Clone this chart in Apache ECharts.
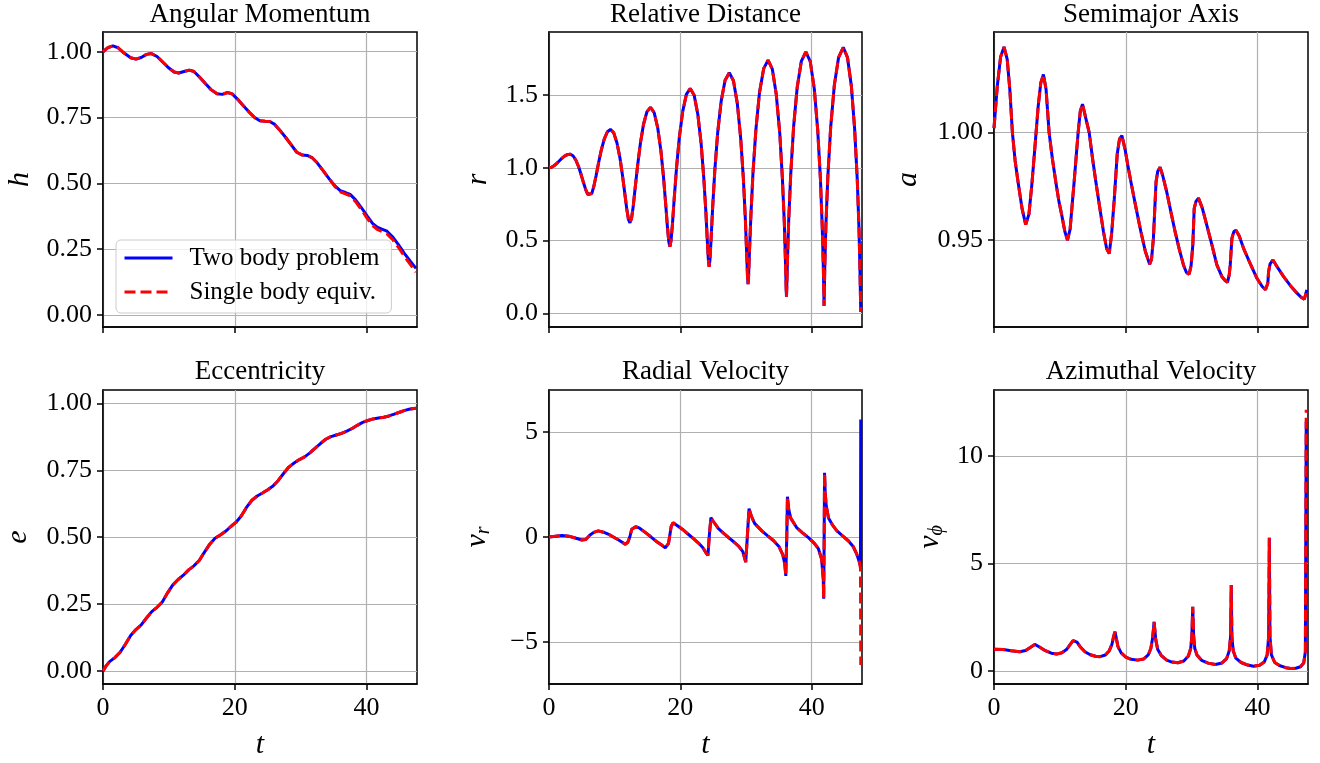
<!DOCTYPE html>
<html><head><meta charset="utf-8">
<script src="https://cdn.jsdelivr.net/npm/echarts@6/dist/echarts.min.js"></script>
<style>html,body{margin:0;padding:0;background:#fff}#c{width:1320px;height:763px}</style>
</head><body><div id="c"></div>
<script>
const FONT = 'Liberation Serif';
const seriesNames = ['Two body problem', 'Single body equiv.'];
const titles = ['Angular Momentum', 'Relative Distance', 'Semimajor Axis', 'Eccentricity', 'Radial Velocity', 'Azimuthal Velocity'];
const tTicks = [0, 20, 40];
const hTicks = [0, 0.25, 0.5, 0.75, 1.0];
const rTicks = [0, 0.5, 1.0, 1.5];
const aTicks = [0.95, 1.0];
const eTicks = [0, 0.25, 0.5, 0.75, 1.0];
const vrTicks = [-5, 0, 5];
const vphiTicks = [0, 5, 10];

// Angular momentum h(t)
const hShared = [[0,1.0],[0.7,1.015],[1.5,1.022],[2.3,1.015],[3.2,0.995],[4.2,0.977],[5.0,0.972],[5.8,0.978],[6.6,0.99],[7.35,0.993],[8.2,0.982],[9.1,0.96],[10.0,0.938],[10.8,0.923],[11.5,0.919],[12.3,0.925],[13.1,0.93],[13.8,0.925],[14.6,0.905],[15.5,0.88],[16.4,0.856],[17.3,0.84],[18.1,0.838],[18.9,0.845],[19.6,0.84],[20.4,0.82],[21.3,0.795],[22.2,0.77],[23.0,0.75],[23.8,0.738],[24.6,0.736],[25.3,0.735],[26.0,0.725],[26.8,0.703],[27.7,0.675],[28.6,0.645],[29.4,0.618],[30.2,0.608],[31.0,0.606],[31.7,0.598],[32.5,0.578],[33.4,0.548],[34.3,0.518]];
const hTwoBodyTail = [[35.2,0.49],[36.0,0.472],[36.8,0.465],[37.5,0.458],[38.3,0.438],[39.2,0.408],[40.1,0.375],[40.9,0.348],[41.6,0.333],[42.4,0.325],[43.1,0.318],[43.9,0.298],[44.8,0.268],[45.7,0.235],[46.6,0.205],[47.5,0.177]];
const hSingleTail = [[35.2,0.487],[36.0,0.468],[36.8,0.46],[37.5,0.452],[38.3,0.431],[39.2,0.4],[40.1,0.367],[40.9,0.34],[41.6,0.325],[42.4,0.316],[43.1,0.308],[43.9,0.288],[44.8,0.258],[45.7,0.224],[46.6,0.193],[47.5,0.163]];

// Relative distance r(t)
const rData = [[0,1.0],[0.38,1.004],[0.76,1.014],[1.15,1.029],[1.55,1.047],[1.95,1.065],[2.36,1.08],[2.78,1.09],[3.2,1.094],
[3.66,1.083],[4.1,1.052],[4.52,1.005],[4.91,0.95],[5.27,0.895],[5.6,0.848],[5.91,0.817],[6.2,0.806],
[6.51,0.823],[6.83,0.873],[7.18,0.948],[7.55,1.035],[7.96,1.122],[8.41,1.197],[8.87,1.246],[9.35,1.264],
[9.86,1.24],[10.35,1.17],[10.81,1.066],[11.2,0.943],[11.55,0.82],[11.84,0.716],[12.09,0.646],[12.32,0.622],
[12.56,0.652],[12.83,0.738],[13.13,0.867],[13.5,1.019],[13.92,1.17],[14.39,1.299],[14.91,1.385],[15.45,1.415],
[16.01,1.379],[16.55,1.275],[17.03,1.119],[17.43,0.937],[17.76,0.754],[18.02,0.598],[18.23,0.494],[18.4,0.458],
[18.58,0.499],[18.8,0.617],[19.07,0.794],[19.42,1.002],[19.84,1.209],[20.35,1.386],[20.91,1.504],[21.5,1.545],
[22.1,1.498],[22.66,1.366],[23.16,1.166],[23.56,0.933],[23.88,0.699],[24.1,0.499],[24.26,0.367],[24.38,0.32],
[24.51,0.371],[24.68,0.515],[24.92,0.732],[25.25,0.987],[25.68,1.241],[26.21,1.458],[26.81,1.602],[27.45,1.653],
[28.08,1.598],[28.67,1.441],[29.18,1.204],[29.59,0.927],[29.89,0.649],[30.09,0.412],[30.22,0.255],[30.3,0.2],
[30.39,0.259],[30.52,0.425],[30.74,0.676],[31.06,0.97],[31.5,1.264],[32.04,1.515],[32.68,1.681],[33.35,1.74],
[34.0,1.678],[34.6,1.503],[35.13,1.238],[35.53,0.927],[35.83,0.616],[36.0,0.351],[36.1,0.176],[36.15,0.114],
[36.2,0.178],[36.3,0.36],[36.49,0.634],[36.8,0.956],[37.23,1.277],[37.78,1.551],[38.42,1.733],[39.1,1.797],
[39.77,1.731],[40.39,1.542],[40.91,1.257],[41.32,0.924],[41.6,0.59],[41.77,0.305],[41.85,0.116],[41.87,0.05],
[41.9,0.118],[41.98,0.309],[42.15,0.599],[42.45,0.939],[42.88,1.278],[43.44,1.568],[44.09,1.759],[44.8,1.827],
[45.44,1.758],[46.03,1.562],[46.53,1.266],[46.93,0.919],[47.2,0.571],[47.35,0.275],[47.43,0.079],[47.47,0.01]];

// Semimajor axis a(t)
const aData = [[0,1.002],[0.5,1.0215],[1.0,1.035],[1.52,1.0397],[2.0,1.034],[2.4,1.02],[2.79,1.0],[3.2,0.987],[3.65,0.977],[4.26,0.9646],[4.81,0.9572],[5.3,0.962],[5.75,0.976],[6.18,0.992],[6.7,1.012],[7.1,1.023],[7.5,1.0269],[7.9,1.02],[8.36,1.0],[8.85,0.988],[9.38,0.977],[9.85,0.968],[10.29,0.9615],[10.75,0.954],[11.15,0.95],[11.55,0.955],[11.85,0.966],[12.16,0.977],[12.77,1.0],[13.1,1.01],[13.43,1.0131],[13.9,1.007],[14.44,1.0],[14.95,0.988],[15.46,0.977],[16.05,0.965],[16.62,0.9538],[17.1,0.946],[17.49,0.9438],[17.85,0.953],[18.25,0.969],[18.7,0.99],[19.05,0.997],[19.41,0.9985],[19.9,0.992],[20.35,0.984],[20.78,0.977],[21.55,0.965],[22.3,0.9538],[22.95,0.945],[23.62,0.9388],[23.9,0.941],[24.19,0.9508],[24.59,0.977],[24.85,0.982],[25.2,0.9838],[25.6,0.98],[26.22,0.9723],[26.85,0.963],[27.49,0.9538],[28.1,0.946],[28.75,0.9385],[29.2,0.935],[29.61,0.9342],[29.9,0.938],[30.17,0.9477],[30.38,0.9646],[30.65,0.968],[31.03,0.9695],[31.6,0.965],[32.3,0.9569],[33.05,0.948],[33.82,0.9385],[34.6,0.933],[35.1,0.9312],[35.44,0.9305],[35.7,0.934],[35.85,0.9385],[36.1,0.9508],[36.4,0.954],[36.71,0.9546],[37.2,0.952],[37.87,0.9462],[38.9,0.939],[39.9,0.9323],[40.7,0.9285],[41.2,0.927],[41.42,0.9265],[41.55,0.93],[41.67,0.9354],[41.9,0.939],[42.33,0.9408],[43.1,0.937],[43.95,0.9331],[44.95,0.929],[45.98,0.9254],[46.6,0.9235],[47.1,0.9226],[47.38,0.9228],[47.47,0.9269]];

// Eccentricity e(t)
const eData = [[0,0.0],[0.5,0.02],[1.0,0.035],[1.8,0.05],[2.6,0.07],[3.4,0.1],[4.2,0.133],[5.0,0.155],[5.8,0.172],[6.6,0.198],[7.4,0.222],[8.2,0.238],[9.0,0.258],[9.8,0.292],[10.6,0.322],[11.4,0.342],[12.2,0.358],[13.0,0.378],[13.8,0.393],[14.6,0.413],[15.4,0.444],[16.2,0.474],[17.0,0.496],[17.8,0.508],[18.6,0.522],[19.4,0.54],[20.2,0.556],[21.0,0.58],[21.8,0.612],[22.6,0.638],[23.4,0.654],[24.2,0.665],[25.0,0.677],[25.8,0.691],[26.6,0.712],[27.4,0.738],[28.2,0.762],[29.0,0.777],[29.8,0.79],[30.6,0.8],[31.4,0.815],[32.2,0.833],[33.0,0.85],[33.8,0.866],[34.6,0.876],[35.4,0.882],[36.2,0.888],[37.0,0.896],[37.8,0.906],[38.6,0.918],[39.4,0.929],[40.2,0.936],[41.0,0.942],[41.8,0.945],[42.6,0.948],[43.4,0.953],[44.2,0.96],[45.0,0.967],[45.8,0.974],[46.6,0.979],[47.5,0.982]];

// Radial velocity v_r(t)
const vrShared = [[0,0.0],[1.0,0.04],[2.0,0.07],[3.0,0.04],[4.0,-0.05],[5.0,-0.14],[5.6,-0.12],[6.2,0.08],[6.8,0.22],[7.5,0.29],[8.3,0.23],[9.0,0.14],[9.8,0.0],[10.6,-0.14],[11.2,-0.26],[11.6,-0.35],[12.0,-0.25],[12.3,0.0],[12.6,0.37],[13.2,0.49],[13.8,0.42],[14.7,0.21],[15.5,0.01],[16.3,-0.2],[17.1,-0.37],[17.7,-0.52],[17.95,-0.6],[18.2,-0.3],[18.4,0.1],[18.6,0.5],[18.9,0.68],[19.5,0.55],[20.3,0.37],[21.2,0.13],[22.0,-0.08],[22.8,-0.3],[23.4,-0.5],[23.9,-0.75],[24.2,-0.88],[24.4,0.05],[24.65,0.92],[25.0,0.75],[25.8,0.4],[26.6,0.17],[27.4,-0.04],[28.2,-0.25],[28.9,-0.45],[29.5,-0.7],[29.95,-1.2],[30.2,0.05],[30.45,1.35],[30.8,1.0],[31.3,0.65],[32.4,0.29],[33.3,0.05],[34.2,-0.18],[35.0,-0.45],[35.6,-0.85],[35.9,-1.3],[36.05,-1.85],[36.2,0.05],[36.3,1.92],[36.5,1.3],[36.8,0.9],[37.7,0.45],[38.6,0.2],[39.5,-0.03],[40.4,-0.3],[41.0,-0.55],[41.5,-1.05],[41.75,-2.0],[41.82,-2.94],[41.89,0.05],[41.95,3.06],[42.05,2.1],[42.2,1.5],[42.55,0.9],[43.2,0.55],[43.8,0.3],[44.7,0.05],[45.6,-0.19],[46.3,-0.45],[46.87,-0.83],[47.27,-1.22]];
const vrTwoBodyTail = [[47.42,-1.4],[47.46,5.6]];
const vrSingleTail = [[47.42,-1.5],[47.46,-6.1]];

// Azimuthal velocity v_phi(t)
const vphiShared = [[0,1.02],[1.4,1.0],[2.6,0.95],[3.9,0.9],[4.8,0.96],[5.5,1.1],[6.19,1.24],[6.9,1.12],[7.8,0.95],[8.7,0.83],[9.5,0.79],[10.3,0.85],[11.0,1.0],[11.6,1.25],[12.0,1.42],[12.27,1.5],[12.6,1.35],[13.1,1.12],[13.8,0.9],[14.6,0.76],[15.4,0.69],[16.1,0.67],[16.9,0.75],[17.5,0.95],[17.9,1.25],[18.15,1.6],[18.36,1.83],[18.55,1.55],[18.8,1.15],[19.3,0.85],[20.0,0.65],[20.8,0.55],[21.8,0.51],[22.7,0.56],[23.4,0.75],[23.8,1.05],[24.05,1.5],[24.2,1.95],[24.29,2.29],[24.4,1.95],[24.55,1.45],[24.85,1.0],[25.4,0.72],[26.2,0.51],[27.0,0.42],[27.9,0.39],[28.8,0.47],[29.5,0.7],[29.85,1.05],[30.02,1.6],[30.16,2.99],[30.3,1.6],[30.47,1.05],[30.8,0.75],[31.5,0.5],[32.5,0.37],[33.6,0.31],[34.6,0.38],[35.3,0.58],[35.7,0.95],[35.9,1.6],[36.0,4.0],[36.1,1.6],[36.3,0.95],[36.7,0.6],[37.5,0.4],[38.5,0.28],[39.4,0.23],[40.3,0.27],[41.0,0.42],[41.45,0.75],[41.68,1.6],[41.78,6.2],[41.88,1.6],[42.1,0.75],[42.6,0.4],[43.4,0.25],[44.3,0.16],[45.0,0.12],[45.8,0.13],[46.5,0.2],[47.0,0.38],[47.25,0.9]];
const vphiTwoBodyTail = [[47.38,11.6]];
const vphiSingleTail = [[47.38,12.15]];

const hTwoBody = hShared.concat(hTwoBodyTail);
const hSingle = hShared.concat(hSingleTail);
const vrTwoBody = vrShared.concat(vrTwoBodyTail);
const vrSingle = vrShared.concat(vrSingleTail);
const vphiTwoBody = vphiShared.concat(vphiTwoBodyTail);
const vphiSingle = vphiShared.concat(vphiSingleTail);

const panels = [
  {title: titles[0], grid: {left: 103, top: 32, width: 314, height: 295}, yMin: -0.046, yMax: 1.075, step: 0.25, ticks: hTicks, dec: 2, name: '{i|h}', nameGap: 66, two: hTwoBody, single: hSingle, bottom: false},
  {title: titles[1], grid: {left: 549, top: 32, width: 313, height: 295}, yMin: -0.094, yMax: 1.933, step: 0.5, ticks: rTicks, dec: 1, name: '{i|r}', nameGap: 54, two: rData, single: rData, bottom: false},
  {title: titles[2], grid: {left: 994, top: 32, width: 314, height: 295}, yMin: 0.9097, yMax: 1.0466, step: 0.05, ticks: aTicks, dec: 2, name: '{i|a}', nameGap: 69, two: aData, single: aData, bottom: false},
  {title: titles[3], grid: {left: 103, top: 390, width: 314, height: 294}, yMin: -0.0486, yMax: 1.05, step: 0.25, ticks: eTicks, dec: 2, name: '{i|e}', nameGap: 68, two: eData, single: eData, bottom: true},
  {title: titles[4], grid: {left: 549, top: 390, width: 313, height: 294}, yMin: -7, yMax: 7, step: 5, ticks: vrTicks, dec: 0, name: '{i|v}{s|r}', nameGap: 55, two: vrTwoBody, single: vrSingle, bottom: true},
  {title: titles[5], grid: {left: 994, top: 390, width: 314, height: 294}, yMin: -0.6, yMax: 13.07, step: 5, ticks: vphiTicks, dec: 0, name: '{i|v}{s|\u03d5}', nameGap: 47, two: vphiTwoBody, single: vphiSingle, bottom: true}
];

function fmt(dec) {
  return function (v) {
    const s = Math.abs(v).toFixed(dec);
    return v < -1e-9 ? '\u2212' + s : s;
  };
}

const nameRich = {
  i: {fontFamily: FONT, fontStyle: 'italic', fontSize: 30, color: '#000', lineHeight: 34},
  s: {fontFamily: FONT, fontStyle: 'italic', fontSize: 20, color: '#000', lineHeight: 20, verticalAlign: 'bottom'}
};

const option = {
  animation: false,
  backgroundColor: '#fff',
  title: [], grid: [], xAxis: [], yAxis: [], series: [],
  legend: {
    orient: 'vertical', left: 116, top: 240,
    data: seriesNames,
    itemWidth: 48, itemHeight: 14, itemGap: 8,
    padding: [5, 12, 8, 7],
    backgroundColor: 'rgba(255,255,255,0.8)',
    borderColor: '#cccccc', borderWidth: 1, borderRadius: 5,
    itemStyle: {color: 'rgba(0,0,0,0)', borderColor: 'rgba(0,0,0,0)', borderWidth: 0, opacity: 0},
    lineStyle: {width: 3},
    textStyle: {fontFamily: FONT, fontSize: 25, color: '#000', lineHeight: 26, padding: [0, 0, 0, 12]},
    selectedMode: false
  }
};

panels.forEach(function (p, i) {
  const cx = p.grid.left + p.grid.width / 2;
  option.title.push({
    text: p.title, left: cx, top: p.bottom ? 358 : 1, textAlign: 'center', padding: 0,
    textStyle: {fontFamily: FONT, fontSize: 27, fontWeight: 'normal', color: '#000'}
  });
  option.grid.push(Object.assign({show: true, borderColor: '#000', borderWidth: 1.5, backgroundColor: 'transparent', containLabel: false}, p.grid));
  option.xAxis.push({
    type: 'value', gridIndex: i, min: 0, max: 47.65, minInterval: 20, maxInterval: 20,
    axisLine: {show: true, onZero: false, lineStyle: {color: '#000', width: 1.5}},
    axisTick: {show: true, inside: false, length: 6, customValues: tTicks, lineStyle: {color: '#000', width: 1.5}},
    axisLabel: {show: p.bottom, customValues: tTicks, margin: 11, fontFamily: FONT, fontSize: 26, color: '#000', formatter: fmt(0)},
    splitLine: {show: true, lineStyle: {color: '#b0b0b0', width: 1.2}},
    name: p.bottom ? '{i|t}' : '', nameLocation: 'middle', nameGap: 44,
    nameTextStyle: {rich: nameRich}
  });
  option.yAxis.push({
    type: 'value', gridIndex: i, min: p.yMin, max: p.yMax, minInterval: p.step, maxInterval: p.step,
    axisLine: {show: true, onZero: false, lineStyle: {color: '#000', width: 1.5}},
    axisTick: {show: true, inside: false, length: 6, customValues: p.ticks, lineStyle: {color: '#000', width: 1.5}},
    axisLabel: {customValues: p.ticks, margin: 11, fontFamily: FONT, fontSize: 26, color: '#000', formatter: fmt(p.dec)},
    splitLine: {show: true, lineStyle: {color: '#b0b0b0', width: 1.2}},
    name: p.name, nameLocation: 'middle', nameGap: p.nameGap, nameRotate: 90,
    nameTextStyle: {rich: nameRich}
  });
  option.series.push({
    type: 'line', name: seriesNames[0], xAxisIndex: i, yAxisIndex: i, data: p.two,
    symbol: 'none', showSymbol: false, z: 2, emphasis: {disabled: true},
    lineStyle: {color: '#0000ff', width: 3, type: 'solid'}, itemStyle: {color: '#0000ff'}
  });
  option.series.push({
    type: 'line', name: seriesNames[1], xAxisIndex: i, yAxisIndex: i, data: p.single,
    symbol: 'none', showSymbol: false, z: 3, emphasis: {disabled: true},
    lineStyle: {color: '#ff0000', width: 3, type: [11, 5]}, itemStyle: {color: '#ff0000'}
  });
});

const chart = echarts.init(document.getElementById('c'), null, {renderer: 'canvas'});
chart.setOption(option);
</script>
</body></html>
